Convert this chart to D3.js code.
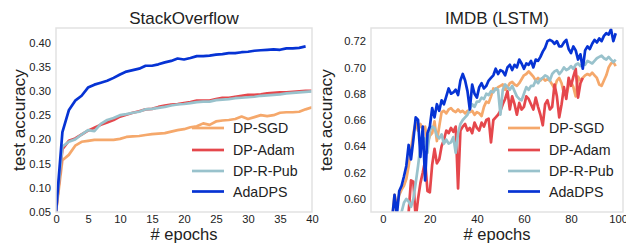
<!DOCTYPE html>
<html><head><meta charset="utf-8">
<script src="https://cdn.jsdelivr.net/npm/d3@7"></script>
<style>body{margin:0;background:#fff}svg{display:block}text{font-family:"Liberation Sans",Arial,sans-serif;fill:#222}</style>
</head><body><svg id="c" width="626" height="244"></svg>
<script>
const seriesNames = ["DP-SGD","DP-Adam","DP-R-Pub","AdaDPS"];
const seriesColors = ["#f5a86b","#e5474c","#99c2cc","#0633d4"];

// StackOverflow (epochs 0..)
const soSGD  = [0.05,0.157,0.168,0.187,0.195,0.197,0.199,0.199,0.199,0.199,0.201,0.205,0.206,0.207,0.209,0.211,0.212,0.213,0.216,0.219,0.221,0.225,0.227,0.233,0.230,0.237,0.239,0.240,0.242,0.247,0.242,0.246,0.250,0.248,0.250,0.255,0.256,0.256,0.257,0.262,0.266];
const soAdam = [0.05,0.180,0.197,0.202,0.210,0.218,0.224,0.230,0.235,0.240,0.247,0.251,0.255,0.258,0.262,0.263,0.267,0.270,0.272,0.273,0.275,0.277,0.280,0.280,0.280,0.283,0.286,0.286,0.288,0.290,0.292,0.292,0.293,0.295,0.296,0.297,0.297,0.298,0.299,0.300,0.300];
const soRPub = [0.05,0.185,0.195,0.200,0.210,0.219,0.217,0.232,0.240,0.244,0.250,0.252,0.255,0.257,0.262,0.263,0.265,0.267,0.270,0.272,0.273,0.275,0.277,0.278,0.278,0.281,0.282,0.283,0.285,0.286,0.287,0.288,0.290,0.291,0.292,0.293,0.295,0.296,0.297,0.298,0.299];
const soAda  = [0.05,0.215,0.260,0.280,0.290,0.307,0.313,0.317,0.321,0.327,0.334,0.340,0.343,0.346,0.352,0.352,0.355,0.359,0.362,0.367,0.365,0.368,0.372,0.372,0.373,0.375,0.376,0.378,0.378,0.380,0.381,0.383,0.384,0.385,0.386,0.385,0.388,0.388,0.389,0.392];
const soTicksX = [0,5,10,15,20,25,30,35,40];
const soTicksY = [0.05,0.10,0.15,0.20,0.25,0.30,0.35,0.40];

// IMDB (LSTM): start epoch per series + values
const imSGDStart = 4;
const imSGD = [0.585,0.603,0.595,0.603,0.607,0.610,0.615,0.625,0.638,0.650,0.658,0.652,0.657,0.653,0.655,0.642,0.648,0.650,0.659,0.644,0.655,0.666,0.667,0.665,0.668,0.669,0.667,0.666,0.668,0.666,0.667,0.665,0.667,0.666,0.667,0.664,0.666,0.665,0.663,0.670,0.674,0.673,0.678,0.684,0.683,0.685,0.686,0.687,0.683,0.685,0.688,0.689,0.687,0.686,0.688,0.691,0.694,0.695,0.697,0.695,0.693,0.690,0.692,0.690,0.692,0.690,0.691,0.690,0.687,0.684,0.690,0.692,0.688,0.680,0.679,0.686,0.689,0.685,0.678,0.693,0.690,0.692,0.694,0.695,0.694,0.696,0.694,0.692,0.687,0.686,0.690,0.694,0.700,0.703,0.704,0.701];
const imAdamStart = 10;
const imAdam = [0.585,0.590,0.614,0.613,0.585,0.600,0.612,0.620,0.629,0.606,0.605,0.626,0.638,0.627,0.630,0.640,0.645,0.652,0.650,0.654,0.651,0.655,0.608,0.652,0.655,0.657,0.652,0.654,0.650,0.658,0.654,0.652,0.658,0.655,0.660,0.661,0.643,0.660,0.662,0.664,0.667,0.672,0.676,0.682,0.668,0.678,0.672,0.664,0.673,0.668,0.670,0.678,0.676,0.672,0.668,0.677,0.670,0.664,0.656,0.672,0.675,0.668,0.670,0.687,0.678,0.662,0.672,0.685,0.676,0.692,0.686,0.693,0.699,0.677,0.688,0.692];
const imRPubStart = 7;
const imRPub = [0.585,0.590,0.597,0.600,0.598,0.594,0.600,0.612,0.625,0.640,0.643,0.646,0.635,0.652,0.655,0.654,0.648,0.646,0.649,0.642,0.645,0.642,0.643,0.647,0.635,0.650,0.657,0.660,0.662,0.664,0.668,0.672,0.670,0.674,0.674,0.677,0.676,0.680,0.679,0.682,0.681,0.684,0.683,0.664,0.683,0.687,0.685,0.683,0.686,0.682,0.678,0.676,0.675,0.680,0.685,0.683,0.686,0.686,0.690,0.688,0.691,0.692,0.694,0.693,0.690,0.695,0.697,0.698,0.695,0.697,0.700,0.698,0.699,0.701,0.699,0.702,0.703,0.701,0.703,0.702,0.705,0.704,0.703,0.705,0.707,0.708,0.709,0.707,0.706,0.708,0.706,0.704,0.706];
const imAdaStart = 4;
const imAda = [0.585,0.603,0.588,0.606,0.610,0.617,0.625,0.641,0.630,0.645,0.662,0.660,0.632,0.655,0.614,0.650,0.655,0.669,0.662,0.672,0.667,0.675,0.672,0.678,0.684,0.680,0.681,0.683,0.679,0.690,0.695,0.690,0.682,0.668,0.687,0.680,0.677,0.685,0.688,0.684,0.686,0.690,0.692,0.694,0.699,0.695,0.698,0.697,0.694,0.700,0.702,0.698,0.702,0.700,0.706,0.703,0.699,0.703,0.702,0.705,0.700,0.706,0.705,0.708,0.712,0.715,0.720,0.721,0.720,0.718,0.720,0.716,0.716,0.719,0.721,0.714,0.711,0.716,0.713,0.706,0.710,0.699,0.713,0.716,0.714,0.718,0.721,0.719,0.722,0.720,0.724,0.726,0.725,0.729,0.720,0.726];
const imTicksX = [0,20,40,60,80,100];
const imTicksY = [0.60,0.62,0.64,0.66,0.68,0.70,0.72];

const svg = d3.select("#c");

function panel(cfg){
  const {x0,x1,y0,y1,xDom,yDom,series,ticksX,ticksY,title,id,legX,ylabX} = cfg;
  const x = d3.scaleLinear().domain(xDom).range([x0,x1]);
  const y = d3.scaleLinear().domain(yDom).range([y1,y0]);
  const g = svg.append("g");
  g.append("clipPath").attr("id",id).append("rect").attr("x",x0).attr("y",y0).attr("width",x1-x0).attr("height",y1-y0);
  const ax = g.append("g").attr("transform",`translate(0,${y1})`)
    .call(d3.axisBottom(x).tickValues(ticksX).tickSize(0).tickPadding(3).tickFormat(d3.format("d")));
  const ay = g.append("g").attr("transform",`translate(${x0},0)`)
    .call(d3.axisLeft(y).tickValues(ticksY).tickSize(0).tickPadding(5).tickFormat(d3.format(".2f")));
  [ax,ay].forEach(a=>{a.select(".domain").remove();a.selectAll("text").attr("font-size",11.2).attr("fill","#333");});
  const line = d3.line().x(d=>x(d[0])).y(d=>y(d[1]));
  const lg = g.append("g").attr("clip-path",`url(#${id})`);
  series.forEach((s,i)=>{
    lg.append("path").datum(s.vals.map((v,k)=>[s.start+k,v]))
      .attr("d",line).attr("fill","none").attr("stroke",seriesColors[i])
      .attr("stroke-width",2.7).attr("stroke-linejoin","round").attr("stroke-linecap","butt");
  });
  g.append("rect").attr("x",x0).attr("y",y0).attr("width",x1-x0).attr("height",y1-y0)
    .attr("fill","none").attr("stroke","#e2e2e2").attr("stroke-width",1.5);
  g.append("text").attr("x",(x0+x1)/2).attr("y",24).attr("text-anchor","middle").attr("font-size",17).text(title);
  g.append("text").attr("x",(x0+x1)/2).attr("y",239.5).attr("text-anchor","middle").attr("font-size",16.5).text("# epochs");
  g.append("text").attr("transform",`translate(${ylabX},${(y0+y1)/2}) rotate(-90)`).attr("text-anchor","middle").attr("dy","0.35em").attr("font-size",17.3).text("test accuracy");
  const rows=[128,150,171,191.5];
  seriesNames.forEach((n,i)=>{
    g.append("line").attr("x1",legX).attr("x2",legX+32).attr("y1",rows[i]).attr("y2",rows[i]).attr("stroke",seriesColors[i]).attr("stroke-width",2.7);
    g.append("text").attr("x",legX+41).attr("y",rows[i]).attr("dy","0.36em").attr("font-size",14.2).text(n);
  });
}

panel({x0:56,x1:312,y0:28,y1:212,xDom:[0,40],yDom:[0.05,0.43],id:"cl1",legX:192,ylabX:19,
  ticksX:soTicksX,ticksY:soTicksY,title:"StackOverflow",
  series:[{start:0,vals:soSGD},{start:0,vals:soAdam},{start:0,vals:soRPub},{start:0,vals:soAda}]});
panel({x0:371,x1:623,y0:28,y1:212,xDom:[-5,102.1],yDom:[0.59,0.73],id:"cl2",legX:508,ylabX:326,
  ticksX:imTicksX,ticksY:imTicksY,title:"IMDB (LSTM)",
  series:[{start:imSGDStart,vals:imSGD},{start:imAdamStart,vals:imAdam},{start:imRPubStart,vals:imRPub},{start:imAdaStart,vals:imAda}]});
</script></body></html>
